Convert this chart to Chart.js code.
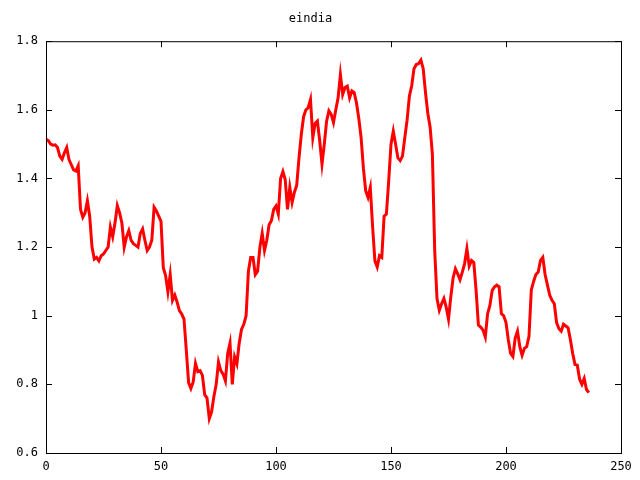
<!DOCTYPE html>
<html>
<head>
<meta charset="utf-8">
<script src="https://cdn.jsdelivr.net/npm/chart.js@4.4.0/dist/chart.umd.min.js"></script>
<style>
html, body { margin: 0; padding: 0; background: #fff; }
</style>
</head>
<body>
<canvas id="chart" width="640" height="480"></canvas>
<script>
const title = 'eindia';
const xTicks = [0, 50, 100, 150, 200, 250];
const yTicks = [0.6, 0.8, 1, 1.2, 1.4, 1.6, 1.8];

// one value per step, 0..236
const values = [
  1.514, 1.51, 1.50, 1.497, 1.498, 1.49, 1.465, 1.456, 1.475, 1.49,
  1.455, 1.44, 1.425, 1.422, 1.437, 1.31, 1.287, 1.30, 1.335, 1.29,
  1.20, 1.165, 1.17, 1.16, 1.175, 1.18, 1.19, 1.20, 1.258, 1.23,
  1.27, 1.321, 1.30, 1.27, 1.20, 1.23, 1.248, 1.22, 1.21, 1.205,
  1.20, 1.24, 1.253, 1.22, 1.19, 1.20, 1.22, 1.316, 1.305, 1.29,
  1.275, 1.14, 1.117, 1.07, 1.12, 1.045, 1.06, 1.04, 1.015, 1.005,
  0.99, 0.90, 0.805, 0.788, 0.807, 0.861, 0.837, 0.84, 0.826, 0.77,
  0.76, 0.70, 0.72, 0.765, 0.80, 0.865, 0.84, 0.83, 0.81, 0.89,
  0.92, 0.80, 0.88, 0.86, 0.92, 0.96, 0.975, 1.0, 1.13, 1.17,
  1.17, 1.12, 1.13, 1.20, 1.24, 1.19, 1.22, 1.265, 1.277, 1.31,
  1.32, 1.296, 1.40, 1.42, 1.397, 1.31, 1.374, 1.33, 1.36, 1.38,
  1.46, 1.528, 1.58, 1.60, 1.606, 1.63, 1.519, 1.56, 1.567, 1.51,
  1.442, 1.50, 1.567, 1.597, 1.587, 1.563, 1.60, 1.635, 1.703, 1.645,
  1.665, 1.669, 1.635, 1.655, 1.65, 1.62, 1.575, 1.519, 1.43, 1.364,
  1.345, 1.374, 1.26, 1.16, 1.142, 1.175, 1.17, 1.29, 1.296, 1.393,
  1.50, 1.538, 1.50, 1.46, 1.452, 1.465, 1.519, 1.57, 1.64, 1.67,
  1.72, 1.732, 1.735, 1.745, 1.72, 1.65, 1.59, 1.55, 1.47, 1.19,
  1.05, 1.016, 1.035, 1.05, 1.025, 0.99, 1.055, 1.11, 1.137, 1.122,
  1.105, 1.127, 1.152, 1.195, 1.145, 1.161, 1.155, 1.074, 0.973, 0.967,
  0.958, 0.938, 1.006, 1.03, 1.074, 1.084, 1.089, 1.084, 1.006, 1.0,
  0.98, 0.93, 0.89, 0.881, 0.935, 0.955, 0.91, 0.885, 0.905, 0.91,
  0.94, 1.075, 1.10, 1.12, 1.127, 1.161, 1.17, 1.12, 1.09, 1.06,
  1.045, 1.035, 0.98, 0.962, 0.955, 0.975, 0.97, 0.965, 0.93, 0.89,
  0.858, 0.856, 0.815, 0.80, 0.817, 0.785, 0.776
];

const monoFont = { family: '"DejaVu Sans Mono", "Liberation Mono", monospace', size: 12 };

// gnuplot style box with inward ticks on every side
const frame = {
  id: 'frame',
  afterDraw(chart) {
    const { ctx, chartArea: a, scales: { x, y } } = chart;
    ctx.save();
    ctx.strokeStyle = '#000';
    ctx.lineWidth = 1;
    ctx.strokeRect(a.left + 0.5, a.top + 0.5, a.right - a.left, a.bottom - a.top);
    ctx.beginPath();
    xTicks.forEach(v => {
      const px = Math.round(x.getPixelForValue(v)) + 0.5;
      ctx.moveTo(px, a.bottom); ctx.lineTo(px, a.bottom - 6);
      ctx.moveTo(px, a.top); ctx.lineTo(px, a.top + 6);
    });
    yTicks.forEach(v => {
      const py = Math.round(y.getPixelForValue(v)) + 0.5;
      ctx.moveTo(a.left, py); ctx.lineTo(a.left + 6, py);
      ctx.moveTo(a.right, py); ctx.lineTo(a.right - 6, py);
    });
    ctx.stroke();
    ctx.restore();
  }
};

new Chart(document.getElementById('chart'), {
  type: 'line',
  data: {
    datasets: [{
      label: title,
      data: values.map((v, i) => ({ x: i, y: v })),
      borderColor: '#ff0000',
      borderWidth: 3,
      pointRadius: 0,
      tension: 0,
      fill: false
    }]
  },
  options: {
    responsive: false,
    animation: false,
    layout: { padding: { left: 0, right: 19, top: 0, bottom: 0 } },
    scales: {
      x: {
        type: 'linear',
        min: 0,
        max: 250,
        afterBuildTicks: s => { s.ticks = xTicks.map(v => ({ value: v })); },
        afterFit: s => { s.height = 27; },
        grid: { display: false, drawTicks: false },
        border: { display: false },
        ticks: { color: '#000', font: monoFont, padding: 7, maxRotation: 0 }
      },
      y: {
        min: 0.6,
        max: 1.8,
        afterBuildTicks: s => { s.ticks = yTicks.map(v => ({ value: v })); },
        afterFit: s => { s.width = 46; },
        grid: { display: false, drawTicks: false },
        border: { display: false },
        ticks: {
          color: '#000',
          font: monoFont,
          padding: 8,
          callback: v => Number(v.toFixed(1)).toString()
        }
      }
    },
    plugins: {
      legend: { display: false },
      tooltip: { enabled: false },
      title: {
        display: true,
        text: title,
        color: '#000',
        font: { ...monoFont, weight: 'normal' },
        padding: { top: 12, bottom: 14.8 }
      }
    }
  },
  plugins: [frame]
});
</script>
</body>
</html>
